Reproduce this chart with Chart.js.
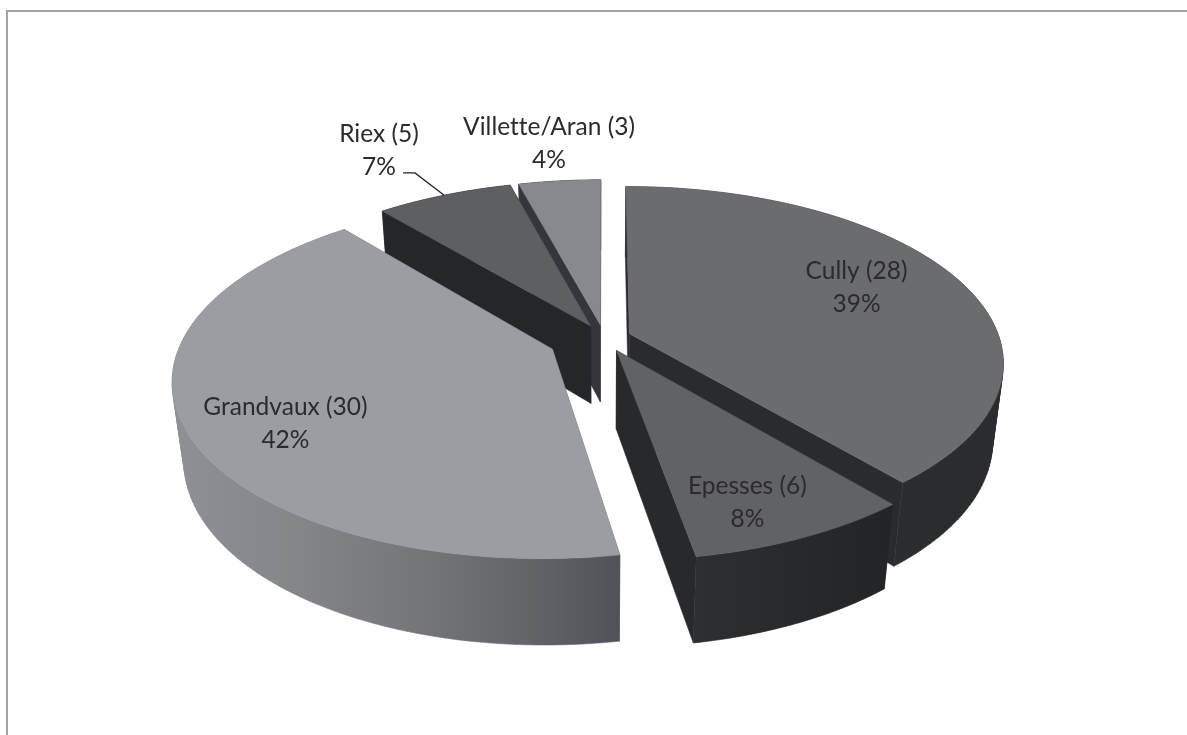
<!DOCTYPE html>
<html><head><meta charset="utf-8">
<style>html,body{margin:0;padding:0;background:#fff}#f{position:absolute;left:6px;top:10px;width:1181px;height:725px;border-left:2px solid #a3a3a3;border-top:2px solid #a3a3a3;box-sizing:border-box}canvas{position:absolute;left:0;top:0}</style>
<script src="https://cdn.jsdelivr.net/npm/chart.js@4"></script>
</head><body><div id="f"></div><canvas id="c" width="1187" height="735"></canvas>
<script>
const categories = ['Cully (28)', 'Epesses (6)', 'Grandvaux (30)', 'Riex (5)', 'Villette/Aran (3)'];
const values = [28, 6, 30, 5, 3];
const percentLabels = ['39%', '8%', '42%', '7%', '4%'];
const topColors = ['#6b6c70', '#616266', '#9a9da1', '#5e5f63', '#86898d'];
const cutColors = ['#2a2b2f', '#27292c', '#5a5d61', '#25262a', '#33373b'];
const wallStops = [
  [[0, '#2d2e32'], [1, '#2b2c30']],
  [[0, '#2c3033'], [0.35, '#2a2b2d'], [1, '#232426']],
  [[0, '#8d9094'], [0.25, '#85878b'], [0.55, '#747679'], [0.8, '#626468'], [1, '#4f5256']],
  [[0, '#25262a'], [1, '#25262a']],
  [[0, '#33373b'], [1, '#33373b']]
];
const explodePx = [25, 27, 52, 27, 27];
const labelRadius = [0.705, 0.818, 0.77, 1.43, 1.31];
const labelTurnDeg = [-3.4, 3.3, -6.1, -1.8, 0];

// camera used to project the library's flat arcs into the tilted 3D view
const cam = { cx: 604, cy: 338, a: 370, b: 172, p: 0.16, h: 80, s: 0.027 };

function project(x, y, z) {
  const d = 1 - cam.p * y + cam.s * z;
  return [cam.cx + cam.a * x / d, cam.cy + (cam.b * y + cam.h * z) / d];
}
function trace(ctx, pts) {
  pts.forEach((p, i) => i ? ctx.lineTo(p[0], p[1]) : ctx.moveTo(p[0], p[1]));
  ctx.closePath();
}
function paint(ctx, fill) {
  ctx.fillStyle = fill;
  ctx.fill();
  ctx.strokeStyle = fill;
  ctx.lineWidth = 0.5;
  ctx.stroke();
}
function poly(ctx, pts, fill) {
  ctx.beginPath();
  trace(ctx, pts);
  paint(ctx, fill);
}
function area(q) {
  let s = 0;
  q.forEach((p, i) => { const r = q[(i + 1) % q.length]; s += p[0] * r[1] - r[0] * p[1]; });
  return s;
}

const pie3d = {
  id: 'pie3d',
  beforeDatasetsDraw(chart) {
    const ctx = chart.ctx;
    const arcs = chart.getDatasetMeta(0).data;
    const geo = arcs.map((el, i) => {
      const R = el.outerRadius;
      const mid = (el.startAngle + el.endAngle) / 2;
      const off = el.options.offset / R;
      return { i, el, mid, ox: Math.cos(mid) * off, oy: Math.sin(mid) * off };
    });
    const order = geo.slice().sort((p, q) => Math.sin(p.mid) - Math.sin(q.mid));
    order.forEach(g => {
      const { i, el, ox, oy } = g;
      const n = 120;
      const rim = [];
      for (let k = 0; k <= n; k++) {
        const t = el.startAngle + (el.endAngle - el.startAngle) * k / n;
        rim.push([ox + Math.cos(t), oy + Math.sin(t)]);
      }
      const at = z => q => project(q[0], q[1], z);
      const top = rim.map(at(0)), bot = rim.map(at(1));
      const a0 = project(ox, oy, 0), a1 = project(ox, oy, 1);
      // cut faces
      poly(ctx, [a0, top[0], bot[0], a1], cutColors[i]);
      poly(ctx, [a0, top[n], bot[n], a1], cutColors[i]);
      // outer wall: ruled quads of one winding, filled as one path so there are no seams
      const xs = top.concat(bot).map(p => p[0]);
      const gr = ctx.createLinearGradient(Math.min(...xs), 0, Math.max(...xs), 0);
      wallStops[i].forEach(s => gr.addColorStop(s[0], s[1]));
      ctx.beginPath();
      for (let k = 0; k < n; k++) {
        const q = [top[k], top[k + 1], bot[k + 1], bot[k]];
        trace(ctx, area(q) < 0 ? q.reverse() : q);
      }
      paint(ctx, gr);
      // top face
      poly(ctx, [a0].concat(top), topColors[i]);
    });
    // labels
    ctx.fillStyle = '#2b2a2c';
    ctx.font = '24.5px Lato';
    ctx.letterSpacing = '0.01px';
    ctx.textAlign = 'center';
    ctx.textBaseline = 'middle';
    geo.forEach(g => {
      const r = labelRadius[g.i];
      const m = g.mid + labelTurnDeg[g.i] * Math.PI / 180;
      const c = project(g.ox + Math.cos(m) * r, g.oy + Math.sin(m) * r, 0);
      ctx.fillText(categories[g.i], c[0], c[1] - 16.5);
      ctx.fillText(percentLabels[g.i], c[0], c[1] + 16.5);
      g.label = c;
    });
    // Riex leader line
    const g = geo[3];
    const from = project(g.ox + Math.cos(g.mid), g.oy + Math.sin(g.mid), 0);
    ctx.beginPath();
    ctx.moveTo(g.label[0] + 24, g.label[1] + 22);
    ctx.lineTo(g.label[0] + 36, g.label[1] + 22);
    ctx.lineTo(from[0], from[1]);
    ctx.strokeStyle = '#222';
    ctx.lineWidth = 1.3;
    ctx.stroke();
    return false;
  }
};

new Chart(document.getElementById('c'), {
  type: 'pie',
  data: { labels: categories, datasets: [{ data: values, backgroundColor: topColors, borderWidth: 0, offset: explodePx }] },
  options: {
    responsive: false, animation: false,
    plugins: { legend: { display: false }, tooltip: { enabled: false } }
  },
  plugins: [pie3d]
});
</script></body></html>
